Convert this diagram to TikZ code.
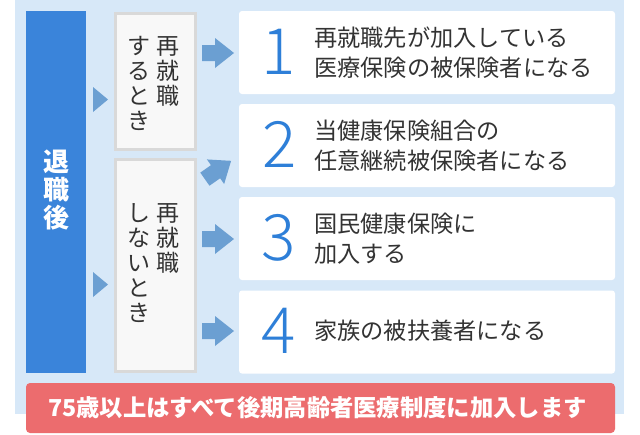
\documentclass[tikz,border=0pt]{standalone}
\usepackage{fontspec}
\setmainfont{Noto Sans CJK JP}
\IfFontExistsTF{Noto Sans CJK JP Light}
  {\newfontfamily\numfont{Noto Sans CJK JP Light}}
  {\newfontfamily\numfont{Noto Sans CJK JP}}
\definecolor{bgblue}{HTML}{D7E8F8}
\definecolor{colblue}{HTML}{3A84DA}
\definecolor{numblue}{HTML}{2E7FD8}
\definecolor{arrowc}{HTML}{6B9FD2}
\definecolor{barred}{HTML}{EC6C6E}
\definecolor{txt}{HTML}{333333}
\definecolor{grayline}{HTML}{D9D9D9}
\definecolor{grayfill}{HTML}{F8F8F8}
\begin{document}
\begin{tikzpicture}[x=1pt,y=-1pt,
  whitebox/.style={fill=white, rounded corners=3pt, minimum width=376pt, minimum height=83pt, inner sep=0},
  graybox/.style={draw=grayline, line width=3pt, fill=grayfill, minimum width=80pt, inner sep=0},
  num/.style={text=numblue, font=\numfont\fontsize{64}{64}\selectfont, inner sep=0},
  desc/.style={text=txt, font=\fontsize{23.2}{30}\selectfont, align=left, anchor=west, inner sep=0},
  vtext/.style={text=txt, font=\fontsize{23}{25}\selectfont, align=center, anchor=north, inner sep=0},
  tri/.style={fill=arrowc},
  bigarrow/.pic={\fill[arrowc] (-16,-8) -- (-3,-8) -- (-3,-15) -- (16,0) -- (-3,15) -- (-3,8) -- (-16,8) -- cycle;}
]
\useasboundingbox (0,0) rectangle (640,434);
\fill[white] (0,0) rectangle (640,434);
% light background
\node[fill=bgblue, minimum width=609pt, minimum height=414pt, inner sep=0] (bg) at (319.5,207) {};
% left column
\node[fill=colblue, minimum width=60pt, minimum height=362pt, inner sep=0] (col) at (56,192) {};
\node[text=white, font=\bfseries\fontsize{26}{28}\selectfont, align=center, inner sep=0] (coltext) at (56,190) {退\\職\\後};
% small triangles
\fill[tri] (93,87) -- (108,99.5) -- (93,112) -- cycle;
\fill[tri] (93,272) -- (108,284.5) -- (93,297) -- cycle;
% gray boxes
\node[graybox, minimum height=136pt] (g1) at (155.5,81.5) {};
\node[graybox, minimum height=212pt] (g2) at (155.5,265.5) {};
\node[vtext] (g1r) at (168,36) {再\\就\\職};
\node[vtext] (g1l) at (139,36) {す\\る\\と\\き};
\node[vtext] (g2r) at (168,203) {再\\就\\職};
\node[vtext] (g2l) at (139,203) {し\\な\\い\\と\\き};
% white boxes
\node[whitebox] (b1) at (427,52.5) {};
\node[whitebox] (b2) at (427,145.5) {};
\node[whitebox] (b3) at (427,238.5) {};
\node[whitebox] (b4) at (427,332) {};
% big arrows
\pic at (218,53) {bigarrow};
\pic[rotate=35] at (218,170) {bigarrow};
\pic at (218,239) {bigarrow};
\pic at (218,331) {bigarrow};
% numbers
\node[num] (n1) at (279,51.5) {1};
\node[num] (n2) at (280,144) {2};
\node[num] (n3) at (279,238) {3};
\node[num] (n4) at (279,330.5) {4};
% descriptions
\node[desc] (d1) at (314,52.5) {再就職先が加入している\\医療保険の被保険者になる};
\node[desc] (d2) at (314,145.5) {当健康保険組合の\\任意継続被保険者になる};
\node[desc] (d3) at (314,238.5) {国民健康保険に\\加入する};
\node[desc] (d4) at (314,331) {家族の被扶養者になる};
% red bar
\node[fill=barred, rounded corners=4pt, minimum width=589pt, minimum height=50pt, inner sep=0] (bar) at (320.5,408) {};
\node[text=white, font=\bfseries\fontsize{23.3}{23.3}\selectfont, anchor=west, inner sep=0] (bartext) at (48,408) {75歳以上はすべて後期高齢者医療制度に加入します};
\end{tikzpicture}
\end{document}
